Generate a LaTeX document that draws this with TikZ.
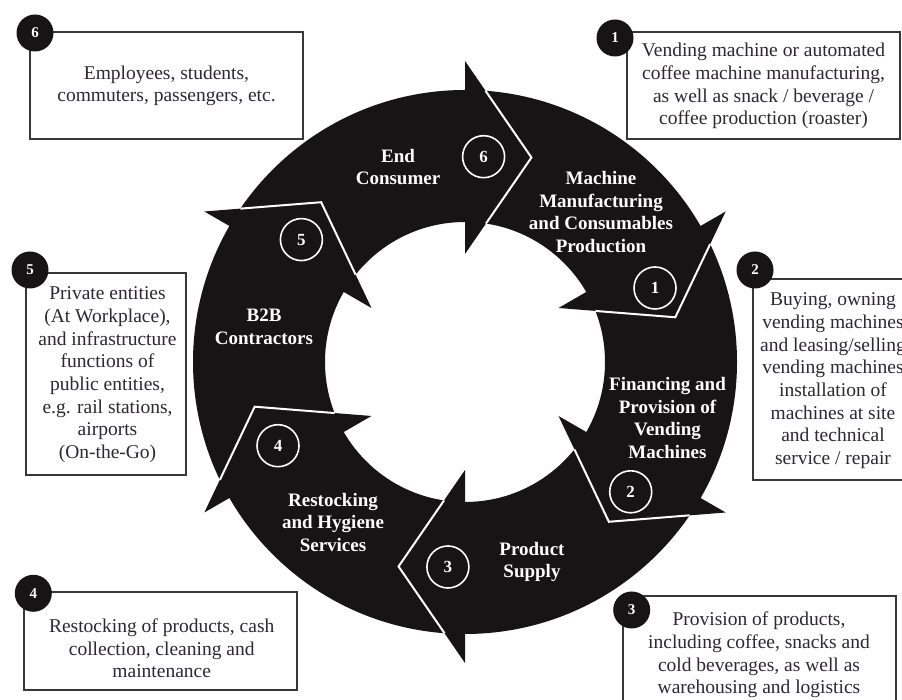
\documentclass[tikz,border=0pt]{standalone}
\usepackage{fontspec}
\setmainfont{Liberation Serif}
\definecolor{boxtext}{RGB}{45,40,50}
\definecolor{boxline}{RGB}{55,55,55}
\definecolor{ringblack}{RGB}{22,20,20}
\begin{document}
\begin{tikzpicture}[x=1pt,y=1pt,
  ringlabel/.style={text=white, font=\bfseries\fontsize{19}{22.8}\selectfont, align=center, inner sep=0},
  ringnum/.style={circle, draw=white, line width=1.6pt, text=white, minimum size=42pt, inner sep=0, font=\bfseries\fontsize{17}{17}\selectfont},
  infobox/.style={draw=boxline, line width=1.4pt, inner sep=0, fill=white},
  infotext/.style={text=boxtext, font=\fontsize{19.5}{22.7}\selectfont, align=center, inner sep=0},
  numdot/.style={circle, fill=ringblack, text=white, minimum size=37pt, inner sep=0, font=\bfseries\fontsize{15}{15}\selectfont},
  gapline/.style={white, line width=2pt, line join=miter}]
\useasboundingbox (0,0) rectangle (902,700);
\clip (0,0) rectangle (902,700);
\fill[white] (0,0) rectangle (902,700);

% ring of six arrows
\begin{scope}[shift={(465,338)}]
  \fill[ringblack, even odd rule] (0,0) circle[radius=272] (0,0) circle[radius=140];
  \foreach \b in {90,30,-30,-90,-150,150} {
    \fill[ringblack] (\b:301) -- (\b-18:215) -- (\b:108) -- cycle;
  }
  \foreach \b in {90,30,-30,-90,-150,150} {
    \draw[gapline] (\b-4.32:272) -- (\b-18:215) -- (\b-8.61:140);
  }
\end{scope}

% ring labels
\node[ringlabel] (l6) at (398,533) {End\\Consumer};
\node[ringlabel] (l1) at (601,488) {Machine\\Manufacturing\\and Consumables\\Production};
\node[ringlabel] (l2) at (667.5,282) {Financing and\\Provision of\\Vending\\Machines};
\node[ringlabel] (l3) at (532,138) {Product\\Supply};
\node[ringlabel] (l4) at (333,177.6) {Restocking\\and Hygiene\\Services};
\node[ringlabel] (l5) at (264,373) {B2B\\Contractors};

% ring numbers
\node[ringnum] (r6) at (483.6,543.3) {6};
\node[ringnum] (r1) at (655,412) {1};
\node[ringnum] (r2) at (630.7,208.2) {2};
\node[ringnum] (r3) at (447.9,133) {3};
\node[ringnum] (r4) at (278,254.3) {4};
\node[ringnum] (r5) at (301.4,460.4) {5};

% box 6
\node[infobox, minimum width=273pt, minimum height=107pt] (b6) at (166.5,614.5) {};
\node[infotext] (t6) at (166.5,614) {Employees, students,\\commuters, passengers, etc.};
\node[numdot] (d6) at (35,667) {6};

% box 1
\node[infobox, minimum width=273pt, minimum height=107pt] (b1) at (763.5,614.5) {};
\node[infotext] (t1) at (763.5,613.8) {Vending machine or automated\\coffee machine manufacturing,\\as well as snack / beverage /\\coffee production (roaster)};
\node[numdot] (d1) at (615,662) {1};

% box 2
\node[infobox, minimum width=160pt, minimum height=201pt] (b2) at (833,320.5) {};
\node[infotext] (t2) at (833,319.2) {Buying, owning\\vending machines\\and leasing/selling\\vending machines\\installation of\\machines at site\\and technical\\service / repair};
\node[numdot] (d2) at (755,430) {2};

% box 3
\node[infobox, minimum width=273pt, minimum height=128pt] (b3) at (759.5,40) {};
\node[infotext] (t3) at (759,45) {Provision of products,\\including coffee, snacks and\\cold beverages, as well as\\warehousing and logistics};
\node[numdot] (d3) at (631.7,90) {3};

% box 4
\node[infobox, minimum width=273pt, minimum height=98pt] (b4) at (160.5,59) {};
\node[infotext] (t4) at (161.7,51.7) {Restocking of products, cash\\collection, cleaning and\\maintenance};
\node[numdot] (d4) at (33.3,106.7) {4};

% box 5
\node[infobox, minimum width=160pt, minimum height=202pt] (b5) at (106,326) {};
\node[infotext] (t5) at (107.5,325.3) {Private entities\\(At Workplace),\\and infrastructure\\functions of\\public entities,\\e.g. rail stations,\\airports\\(On-the-Go)};
\node[numdot] (d5) at (30,430) {5};
\end{tikzpicture}
\end{document}
